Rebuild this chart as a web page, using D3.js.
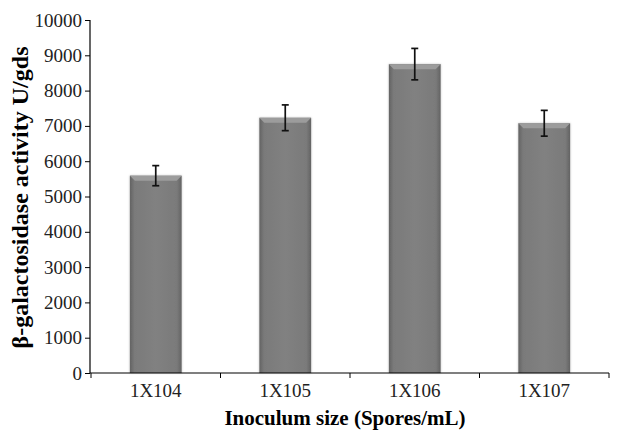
<!DOCTYPE html>
<html>
<head>
<meta charset="utf-8">
<script src="https://cdn.jsdelivr.net/npm/d3@7"></script>
<style>
  body { margin: 0; background: #fff; }
  svg text { font-family: "Liberation Serif", "Times New Roman", serif !important; }
</style>
</head>
<body>
<div class="chart"></div>
<script>
'use strict';

const categories = ["1X104", "1X105", "1X106", "1X107"];
const activity = [5590, 7230, 8750, 7075];
const errors = [285, 365, 445, 365];
const yTicks = [0, 1000, 2000, 3000, 4000, 5000, 6000, 7000, 8000, 9000, 10000];

(function() {
    const W = 625, H = 432;
    const margin = {top: 20, right: 16, bottom: 59, left: 91};
    const width = W - margin.left - margin.right,
          height = H - margin.top - margin.bottom;

    const svg = d3.select('.chart').append('svg')
        .attr('width', W).attr('height', H);

    // bar gradient + bevel
    const defs = svg.append('defs');
    const grad = defs.append('linearGradient').attr('id', 'barGrad')
        .attr('x1', '0%').attr('x2', '100%').attr('y1', '0%').attr('y2', '0%');
    grad.append('stop').attr('offset', '0%').attr('stop-color', '#636363');
    grad.append('stop').attr('offset', '9%').attr('stop-color', '#7a7a7a');
    grad.append('stop').attr('offset', '50%').attr('stop-color', '#818181');
    grad.append('stop').attr('offset', '91%').attr('stop-color', '#7a7a7a');
    grad.append('stop').attr('offset', '100%').attr('stop-color', '#636363');
    const f = defs.append('filter').attr('id', 'shadow')
        .attr('x', '-20%').attr('y', '-5%').attr('width', '140%').attr('height', '110%');
    f.append('feDropShadow').attr('dx', 0).attr('dy', 0).attr('stdDeviation', 1.2)
        .attr('flood-color', '#000').attr('flood-opacity', 0.25);

    const g = svg.append('g').attr('transform', `translate(${margin.left},${margin.top})`);

    const x = d3.scaleBand().domain(categories).range([0, width]).paddingInner(0.6).paddingOuter(0.3);
    const xb = d3.scaleBand().domain(categories).range([0, width]);
    const y = d3.scaleLinear().domain([0, 10000]).range([height, 0]);

    // bars
    const bars = g.selectAll('.bar').data(categories).enter().append('g').attr('class', 'bar');
    bars.append('rect')
        .attr('x', d => x(d))
        .attr('y', (d, i) => y(activity[i]))
        .attr('width', x.bandwidth())
        .attr('height', (d, i) => y(0) - y(activity[i]))
        .attr('fill', 'url(#barGrad)')
        .attr('filter', 'url(#shadow)');
    // top bevel
    bars.append('path')
        .attr('d', (d, i) => {
            const x0 = x(d), x1 = x(d) + x.bandwidth(), t = y(activity[i]), b = 5;
            return `M${x0},${t}L${x1},${t}L${x1 - b},${t + b}L${x0 + b},${t + b}Z`;
        })
        .attr('fill', '#9c9c9c');

    // error bars
    const eb = g.selectAll('.err').data(categories).enter().append('g').attr('class', 'err')
        .attr('stroke', '#111').attr('stroke-width', 1.7);
    const cx = d => x(d) + x.bandwidth() / 2;
    eb.append('line').attr('x1', cx).attr('x2', cx)
        .attr('y1', (d, i) => y(activity[i] + errors[i]))
        .attr('y2', (d, i) => y(activity[i] - errors[i]));
    eb.append('line').attr('x1', d => cx(d) - 3.5).attr('x2', d => cx(d) + 3.5)
        .attr('y1', (d, i) => y(activity[i] + errors[i]))
        .attr('y2', (d, i) => y(activity[i] + errors[i]));
    eb.append('line').attr('x1', d => cx(d) - 3.5).attr('x2', d => cx(d) + 3.5)
        .attr('y1', (d, i) => y(activity[i] - errors[i]))
        .attr('y2', (d, i) => y(activity[i] - errors[i]));

    // y axis
    const yAxis = g.append('g').attr('transform', 'translate(-1,0)')
        .call(d3.axisLeft(y).tickValues(yTicks).tickFormat(d3.format('d')).tickSize(5).tickPadding(3));
    yAxis.selectAll('text').style('font-size', '19px').attr('fill', '#222');
    yAxis.select('.domain').attr('d', `M0,${height}V0`).attr('stroke', '#000').attr('stroke-width', 1.2);
    yAxis.selectAll('.tick line').attr('stroke', '#000');

    // x axis: ticks at band boundaries
    const xAxis = g.append('g').attr('transform', `translate(0,${height})`);
    xAxis.append('line').attr('x1', -1).attr('x2', width).attr('stroke', '#000').attr('stroke-width', 1.2);
    xAxis.selectAll('.xt').data(categories.concat(['end'])).enter().append('line')
        .attr('x1', (d, i) => i < categories.length ? xb(d) : width)
        .attr('x2', (d, i) => i < categories.length ? xb(d) : width)
        .attr('y1', 0).attr('y2', 5).attr('stroke', '#000');
    xAxis.selectAll('.xl').data(categories).enter().append('text')
        .attr('x', d => xb(d) + xb.bandwidth() / 2)
        .attr('y', 24)
        .attr('text-anchor', 'middle')
        .style('font-size', '19px').attr('fill', '#222')
        .text(d => d);

    // axis labels
    svg.append('text')
        .attr('x', margin.left + width / 2 - 5).attr('y', 425)
        .attr('text-anchor', 'middle')
        .style('font-size', '21px').style('font-weight', 'bold')
        .text('Inoculum size (Spores/mL)');

    svg.append('text')
        .attr('transform', `translate(28,${margin.top + height / 2 + 1}) rotate(-90)`)
        .attr('text-anchor', 'middle')
        .style('font-size', '24px').style('font-weight', 'bold')
        .text('β-galactosidase activity U/gds');
})();
</script>
</body>
</html>
